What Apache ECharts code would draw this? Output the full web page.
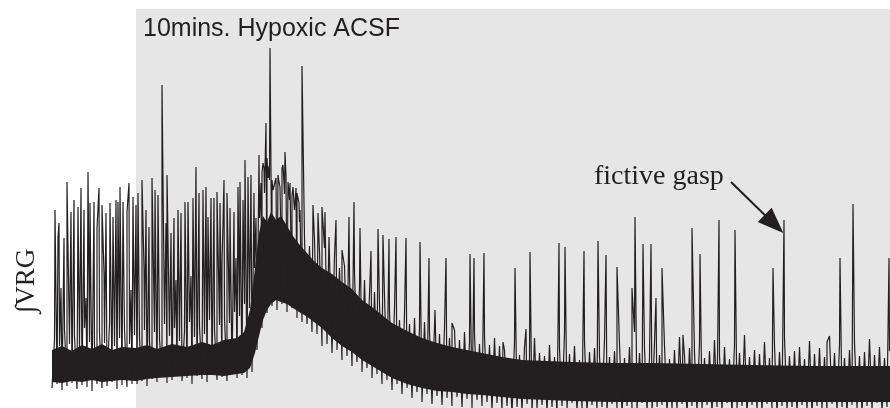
<!DOCTYPE html>
<html>
<head>
<meta charset="utf-8">
<script src="https://cdn.jsdelivr.net/npm/echarts@6/dist/echarts.min.js"></script>
<style>
html,body{margin:0;padding:0;background:#fff;}
#chart{width:890px;height:408px;}
</style>
</head>
<body>
<div id="chart"></div>
<script>
// ---- data (time in s, amplitude in arbitrary units) ----
const SAMPLE_STEP = 5;           // seconds between noise columns
const recordEnd = 838;           // s
const hypoxiaStart = 84;         // s (start of 10 min hypoxic ACSF)
const hypoxiaEnd = 838;
const panelTop = 399;
const ampMax = 408;

// lower excursion of the noise band per column
const bandLow = [
  20,24,18,22,25,19,23,21,17,24,20,22,26,19,23,21,24,
  24,27,22,29,26,31,25,28,33,27,30,24,32,29,26,34,28,31,27,35,30,33,
  30,36,58,80,95,102,98,104,96,100,90,
  86,84,76,74,62,64,55,58,48,52,42,46,36,40,30,34,24,28,18,24,
  14,20,10,16,6,14,4,12,3,10,2,11,1,9,0,8,2,6,-2,5,
  -3,2,-6,1,-2,4,-5,0,3,-4,1,-7,2,-1,5,-3,0,-5,3,-2,
  1,-4,4,-1,-6,2,0,-3,5,-2,-5,1,3,-4,0,-1,4,-6,2,-3,
  0,3,-5,1,-2,5,-4,0,2,-6,3,-1,-3,4,0,-5,2,-2,1,-4,
  3,-1,-6,2,0,-3,4,-2,1,-5,3,0,-4,2,-1,5,-3,1
];
// upper excursion of the noise band per column
const bandHigh = [
  68,62,78,64,72,60,80,66,63,75,65,84,62,70,78,64,73,
  70,78,66,76,69,84,72,80,67,77,86,71,82,74,88,78,83,90,85,96,92,104,
  100,140,190,215,228,220,225,214,208,198,186,
  170,162,168,156,160,150,152,140,142,132,136,122,128,114,116,104,112,96,100,88,
  94,84,90,80,86,76,82,74,80,70,78,68,76,66,74,64,72,63,70,62,
  58,50,66,53,61,49,70,55,52,63,51,59,74,54,62,48,67,56,60,52,
  68,51,57,64,50,61,76,55,59,50,66,53,62,49,58,71,52,60,55,65,
  50,57,68,53,61,49,64,55,73,51,58,54,66,50,62,56,70,52,57,61,
  49,67,54,60,51,72,55,63,50,58,65,52,56,69,53,61,50,57
];
// dense core of the integrated signal
const coreT   = [0,10,20,30,40,50,60,70,84,95,105,120,135,150,160,172,185,192,198,203,
                 207,211,215,219,224,229,235,241,247,254,262,270,280,290,300,310,320,330,340,355,
                 370,385,400,415,430,450,470,495,520,560,600,650,700,760,838];
const coreTop = [58,62,57,63,59,64,58,61,60,63,59,64,61,66,63,68,70,76,98,140,
                 175,192,186,196,188,192,182,172,164,156,147,140,134,126,119,108,101,93,85,77,
                 70,65,61,58,55,51,48,47,46,45,45,44,43,42,42];
const coreBot = [26,25,27,26,28,26,27,28,27,29,30,31,32,33,33,32,34,35,40,55,
                 72,88,98,104,108,106,104,100,96,92,86,80,70,62,56,48,42,36,30,24,
                 20,17,16,14,13,11,9,8,7,6,6,6,6,6,6];
// bursts [time, peak amplitude]
const bursts = [
  [3,198],[6,171],[7,185],[9,120],[12,170],[15,226],[19,196],[22,208],[26,201],[29,220],
  [32,198],[34,110],[36,236],[38,205],[42,206],[45,180],[47,220],[50,203],[52,135],[54,195],
  [58,205],[61,191],[64,208],[66,206],[68,221],[71,206],[75,196],[77,225],[79,118],[81,211],
  [84,203],[86,215],[90,228],[92,140],[94,198],[97,181],[100,230],[103,218],[106,213],[110,323],
  [114,185],[115,233],[119,175],[122,190],[124,128],[126,198],[129,195],[133,206],[136,206],[139,132],
  [141,210],[144,241],[147,215],[151,218],[154,221],[156,191],[159,210],[162,210],[165,216],[168,205],
  [170,145],[172,228],[175,215],[178,200],[182,196],[184,150],[186,221],[188,226],[191,208],[193,248],
  [196,231],[199,233],[202,215],[204,190],[207,253],[209,225],[210,235],[211,245],[212,240],[213,238],
  [214,285],[215,250],[216,230],[217,242],[218,360],[219,236],[220,228],[221,218],[223,218],[224,230],
  [226,233],[227,226],[228,221],[230,240],[231,243],[232,225],[233,256],[234,232],[236,226],[237,215],
  [238,225],[240,212],[241,221],[242,205],[243,200],[244,220],[245,215],[247,205],[248,198],[250,342],
  [261,203],[266,195],[270,201],[273,196],[277,171],[284,188],[290,158],[297,191],
  [302,206],[308,180],[319,157],[326,179],[331,173],[337,169],[344,171],[354,170],[368,166],[377,150],
  [383,98],[394,150],[400,85],[418,154],[422,150],[432,155],[451,66],[463,140],[474,79],[478,156],
  [507,165],[513,161],[532,157],[546,167],[554,153],[565,141],[580,120],[583,191],[591,164],[599,164],
  [604,110],[610,140],[631,73],[640,180],[648,154],[667,188],[683,178],[721,140],[732,188],[775,66],
  [788,150],[801,204],[837,150]
];
// annotation: arrow towards the fictive gasp at t=732
const gaspArrow = [[679,226],[722,184]];

// ---- build trace ----
const trace = [];
for (let i = 0; i < bandLow.length; i++) {
  trace.push([i * SAMPLE_STEP, bandLow[i]]);
  trace.push([i * SAMPLE_STEP + SAMPLE_STEP / 2, bandHigh[i]]);
}
bursts.forEach(b => trace.push([b[0], b[1]]));
trace.sort((a, b) => a[0] - b[0]);

const INK = '#231f20';
const chart = echarts.init(document.getElementById('chart'), null, {renderer: 'canvas'});
chart.setOption({
  animation: false,
  backgroundColor: '#ffffff',
  grid: {left: 52, right: 0, top: 0, bottom: 0},
  xAxis: {type: 'value', min: 0, max: recordEnd, show: false},
  yAxis: {type: 'value', min: 0, max: ampMax, show: false},
  graphic: [
    {type: 'text', x: 143, y: 17, z: 10,
     style: {text: '10mins. Hypoxic ACSF', font: '25px "Liberation Sans", Arial, sans-serif', fill: INK}},
    {type: 'text', x: 594, y: 163, z: 10,
     style: {text: 'fictive gasp', font: '28px "Liberation Serif", "Times New Roman", serif', fill: INK}},
    {type: 'text', x: 27, y: 281, rotation: Math.PI / 2, z: 10,
     style: {text: '\u222BVRG', font: '27px "Liberation Serif", "Times New Roman", serif', fill: INK, align: 'center', verticalAlign: 'middle'}}
  ],
  series: [
    {
      type: 'custom', z: 1, silent: true,
      data: [[hypoxiaStart, hypoxiaEnd]],
      encode: {x: [0, 1]},
      renderItem: (params, api) => {
        const p0 = api.coord([api.value(0), panelTop]);
        const p1 = api.coord([api.value(1), 0]);
        return {type: 'rect', shape: {x: p0[0], y: p0[1], width: p1[0] - p0[0], height: p1[1] - p0[1]},
                style: {fill: '#e6e6e6'}};
      }
    },
    {
      type: 'custom', z: 2, silent: true,
      data: coreT.map((t, i) => [t, coreTop[i], coreBot[i]]),
      encode: {x: 0, y: [1, 2]},
      renderItem: (params, api) => {
        if (params.dataIndex !== 0) return null;
        const pts = [];
        for (let i = 0; i < coreT.length; i++) pts.push(api.coord([coreT[i], coreTop[i]]));
        for (let i = coreT.length - 1; i >= 0; i--) pts.push(api.coord([coreT[i], coreBot[i]]));
        return {type: 'polygon', shape: {points: pts}, style: {fill: INK}};
      }
    },
    {
      type: 'line', z: 3, silent: true,
      data: trace,
      showSymbol: false, symbol: 'none',
      lineStyle: {color: INK, width: 1.2},
      markLine: {
        silent: true, animation: false,
        symbol: ['none', 'triangle'], symbolSize: [20, 26],
        lineStyle: {color: INK, width: 2, type: 'solid'},
        label: {show: false},
        data: [[{coord: gaspArrow[0]}, {coord: gaspArrow[1]}]]
      }
    }
  ]
});
</script>
</body>
</html>
